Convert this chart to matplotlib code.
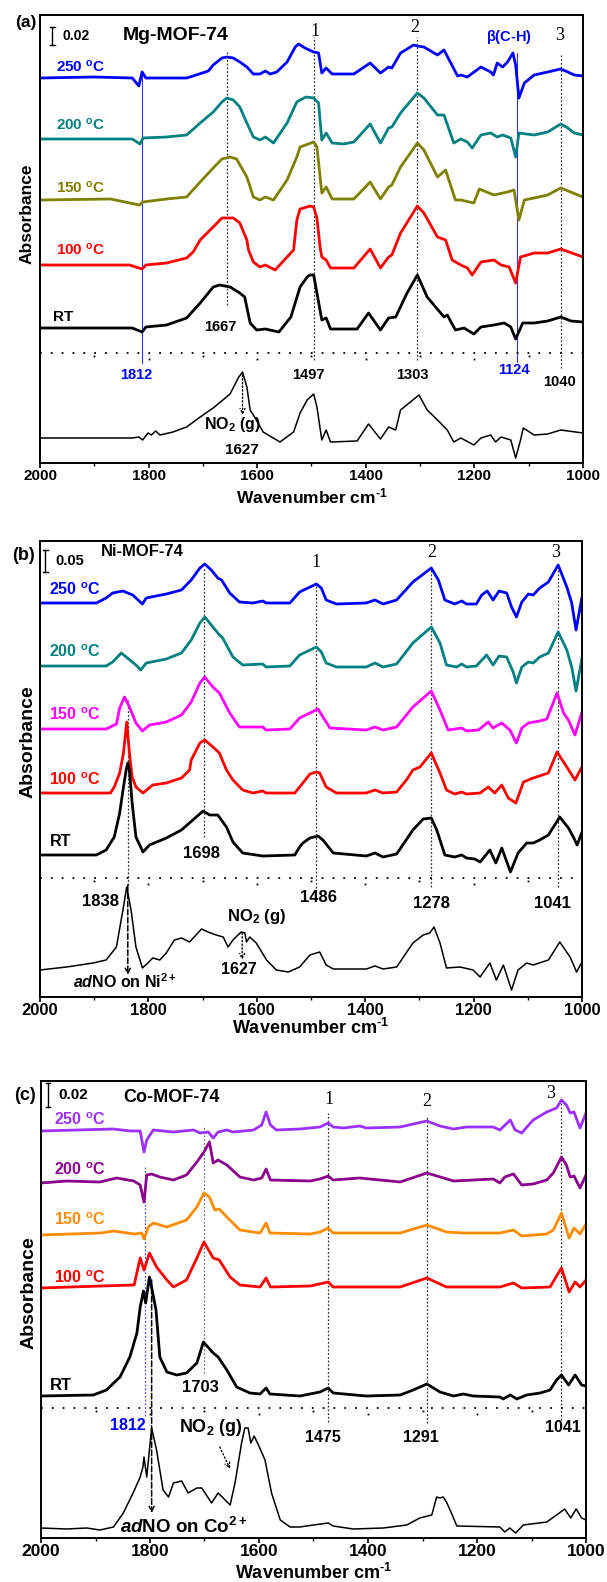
import matplotlib
matplotlib.use("Agg")
import matplotlib.pyplot as plt

plt.rcParams["font.family"] = ["Liberation Sans", "DejaVu Sans"]
plt.rcParams["font.weight"] = "bold"
plt.rcParams["axes.labelweight"] = "bold"
plt.rcParams["mathtext.fontset"] = "custom"
plt.rcParams["mathtext.rm"] = "Liberation Sans:bold"
plt.rcParams["mathtext.bf"] = "Liberation Sans:bold"
plt.rcParams["mathtext.it"] = "Liberation Sans:bold:italic"

# ---- spectra: (wavenumber, height) pairs, stacked heights in arbitrary units ----
# (a) Mg-MOF-74
a_250 = [(2000, 385), (1900, 386), (1830, 385), (1818, 377), (1812, 391), (1805, 385), (1730, 385),
         (1718, 387), (1690, 392), (1681, 398), (1665, 405), (1656, 406), (1644, 405), (1632, 401),
         (1619, 396), (1607, 389), (1595, 389), (1585, 392), (1576, 389), (1564, 391), (1545, 401),
         (1530, 416), (1524, 419), (1512, 415), (1496, 411), (1487, 410), (1481, 390), (1473, 395),
         (1462, 389), (1422, 389), (1392, 400), (1373, 390), (1358, 396), (1352, 395), (1336, 410),
         (1312, 418), (1305, 417), (1293, 416), (1268, 408), (1256, 413), (1231, 387), (1225, 388),
         (1213, 386), (1188, 396), (1170, 391), (1165, 388), (1158, 400), (1148, 396), (1139, 401),
         (1129, 410), (1124, 398), (1118, 365), (1108, 380), (1090, 388), (1065, 391), (1041, 394),
         (1028, 391), (1016, 388), (1000, 387)]
a_200 = [(2000, 324), (1830, 324), (1816, 319), (1810, 325), (1767, 326), (1730, 328), (1705, 340),
         (1681, 351), (1665, 361), (1656, 365), (1644, 363), (1632, 356), (1619, 340), (1607, 326),
         (1595, 323), (1585, 326), (1570, 320), (1545, 340), (1527, 361), (1521, 363), (1510, 366),
         (1496, 365), (1487, 360), (1481, 323), (1473, 330), (1462, 320), (1441, 319), (1422, 321),
         (1392, 339), (1373, 320), (1358, 335), (1352, 336), (1336, 350), (1305, 370), (1293, 365),
         (1268, 348), (1256, 348), (1238, 320), (1225, 324), (1213, 321), (1204, 315), (1188, 328),
         (1170, 330), (1158, 326), (1148, 328), (1133, 325), (1124, 306), (1118, 330), (1090, 328),
         (1065, 331), (1041, 339), (1028, 335), (1016, 330), (1000, 328)]
a_150 = [(2000, 263), (1870, 264), (1817, 258), (1811, 261), (1767, 264), (1730, 266), (1705, 281),
         (1681, 295), (1665, 304), (1650, 306), (1638, 304), (1619, 286), (1607, 266), (1595, 263),
         (1585, 266), (1570, 263), (1545, 283), (1527, 306), (1521, 316), (1496, 321), (1490, 316),
         (1481, 270), (1473, 276), (1462, 264), (1422, 264), (1392, 281), (1373, 264), (1358, 276),
         (1352, 278), (1336, 296), (1305, 320), (1293, 313), (1268, 286), (1253, 293), (1235, 263),
         (1225, 263), (1201, 260), (1191, 274), (1164, 268), (1139, 271), (1127, 273), (1118, 243),
         (1108, 263), (1090, 265), (1065, 268), (1041, 275), (1000, 266)]
a_100 = [(2000, 198), (1835, 198), (1812, 194), (1805, 198), (1767, 200), (1730, 205), (1718, 211),
         (1705, 223), (1681, 236), (1665, 245), (1644, 245), (1632, 240), (1619, 223), (1616, 213),
         (1607, 201), (1595, 196), (1585, 198), (1567, 193), (1545, 206), (1533, 213), (1527, 243),
         (1521, 254), (1502, 257), (1496, 256), (1490, 245), (1484, 215), (1481, 206), (1473, 203),
         (1465, 195), (1422, 195), (1392, 214), (1373, 195), (1358, 206), (1352, 208), (1336, 230),
         (1305, 257), (1293, 250), (1268, 226), (1253, 223), (1241, 203), (1225, 198), (1213, 195),
         (1204, 188), (1188, 201), (1164, 203), (1151, 198), (1136, 196), (1124, 180), (1115, 206),
         (1090, 210), (1065, 210), (1041, 214), (1000, 206)]
a_rt = [(2000, 135), (1830, 135), (1812, 131), (1805, 136), (1767, 138), (1730, 145), (1705, 160),
        (1681, 176), (1669, 178), (1650, 176), (1632, 170), (1623, 166), (1613, 140), (1601, 133),
        (1585, 134), (1560, 131), (1538, 146), (1521, 176), (1508, 186), (1503, 188), (1496, 188),
        (1490, 170), (1481, 143), (1473, 145), (1465, 134), (1416, 134), (1395, 150), (1373, 133),
        (1358, 145), (1345, 146), (1324, 170), (1305, 188), (1287, 166), (1256, 146), (1250, 148),
        (1235, 133), (1219, 135), (1201, 129), (1188, 136), (1164, 138), (1145, 140), (1133, 136),
        (1124, 124), (1111, 140), (1090, 140), (1065, 142), (1041, 146), (1022, 142), (1000, 141)]
a_gas = [(2000, 25), (1830, 25), (1818, 26), (1811, 23), (1801, 30), (1795, 28), (1787, 32), (1779, 28),
         (1755, 31), (1730, 36), (1705, 46), (1681, 55), (1650, 69), (1635, 85), (1627, 91), (1619, 76),
         (1613, 53), (1607, 48), (1589, 31), (1558, 21), (1533, 31), (1521, 50), (1508, 63), (1496, 69),
         (1490, 56), (1481, 23), (1473, 33), (1465, 21), (1416, 22), (1395, 39), (1373, 24), (1358, 36),
         (1345, 33), (1336, 53), (1318, 61), (1302, 68), (1287, 53), (1268, 43), (1250, 33), (1238, 21),
         (1225, 25), (1201, 18), (1188, 25), (1170, 28), (1161, 21), (1151, 26), (1133, 23), (1124, 5),
         (1115, 23), (1110, 35), (1090, 28), (1065, 29), (1041, 33), (1000, 30)]

# (b) Ni-MOF-74
b_250 = [(2000, 394), (1896, 394), (1878, 399), (1866, 404), (1847, 406), (1829, 402), (1811, 393),
         (1804, 399), (1767, 403), (1739, 407), (1721, 417), (1705, 429), (1696, 433), (1684, 427),
         (1672, 419), (1665, 417), (1650, 404), (1632, 395), (1607, 394), (1589, 396), (1583, 394),
         (1539, 394), (1521, 405), (1502, 410), (1490, 413), (1481, 409), (1472, 397), (1453, 393),
         (1398, 394), (1382, 397), (1367, 393), (1342, 397), (1312, 415), (1278, 429), (1265, 417),
         (1253, 397), (1235, 393), (1222, 396), (1213, 393), (1195, 393), (1185, 402), (1175, 406),
         (1164, 397), (1153, 406), (1139, 404), (1130, 390), (1121, 380), (1111, 395), (1099, 403),
         (1090, 402), (1078, 409), (1062, 415), (1044, 432), (1028, 410), (1019, 394), (1011, 367),
         (1000, 400)]
b_200 = [(2000, 331), (1878, 331), (1866, 335), (1850, 344), (1841, 340), (1823, 332), (1814, 327),
         (1804, 334), (1767, 338), (1739, 344), (1721, 357), (1705, 374), (1696, 380), (1684, 372),
         (1672, 364), (1663, 359), (1644, 340), (1626, 332), (1589, 333), (1583, 330), (1539, 331),
         (1521, 342), (1490, 350), (1481, 345), (1472, 334), (1453, 330), (1398, 330), (1382, 334),
         (1367, 330), (1342, 333), (1312, 354), (1278, 370), (1262, 354), (1250, 332), (1231, 330),
         (1222, 333), (1213, 330), (1195, 331), (1176, 342), (1164, 332), (1153, 341), (1139, 340),
         (1127, 325), (1121, 314), (1111, 330), (1099, 335), (1090, 334), (1078, 340), (1062, 344),
         (1044, 365), (1028, 347), (1019, 330), (1011, 306), (1000, 339)]
b_150 = [(2000, 268), (1878, 268), (1859, 273), (1853, 289), (1844, 300), (1835, 290), (1823, 274),
         (1811, 266), (1798, 272), (1767, 275), (1739, 282), (1721, 295), (1705, 314), (1696, 320),
         (1681, 310), (1669, 304), (1650, 284), (1632, 270), (1589, 270), (1583, 267), (1539, 268),
         (1521, 279), (1502, 284), (1487, 288), (1478, 280), (1465, 269), (1398, 267), (1382, 270),
         (1367, 267), (1342, 270), (1312, 290), (1278, 306), (1262, 287), (1247, 267), (1222, 269),
         (1213, 266), (1191, 267), (1173, 275), (1164, 269), (1148, 274), (1133, 267), (1121, 254),
         (1111, 269), (1099, 274), (1078, 276), (1065, 278), (1046, 304), (1034, 284), (1025, 277),
         (1013, 262), (1000, 285)]
b_100 = [(2000, 204), (1870, 204), (1863, 210), (1853, 224), (1846, 244), (1840, 275), (1835, 244),
         (1830, 220), (1823, 210), (1810, 204), (1792, 212), (1767, 214), (1739, 219), (1724, 227),
         (1721, 237), (1705, 254), (1696, 257), (1681, 250), (1669, 244), (1656, 227), (1644, 217),
         (1626, 207), (1607, 204), (1589, 206), (1583, 204), (1530, 204), (1515, 214), (1502, 223),
         (1490, 225), (1484, 224), (1472, 210), (1453, 204), (1398, 204), (1382, 207), (1367, 204),
         (1342, 205), (1324, 217), (1312, 227), (1299, 230), (1278, 244), (1262, 224), (1250, 207),
         (1235, 203), (1222, 205), (1213, 203), (1188, 204), (1173, 210), (1161, 204), (1148, 212),
         (1136, 199), (1122, 194), (1108, 215), (1090, 219), (1062, 224), (1046, 245), (1028, 230),
         (1013, 217), (1000, 230)]
b_rt = [(2000, 142), (1896, 142), (1878, 147), (1863, 160), (1853, 184), (1846, 210), (1841, 227),
        (1838, 234), (1835, 227), (1830, 194), (1823, 160), (1810, 145), (1798, 152), (1767, 159),
        (1739, 167), (1718, 177), (1699, 186), (1687, 182), (1672, 182), (1656, 170), (1644, 155),
        (1626, 144), (1589, 141), (1530, 142), (1521, 150), (1515, 154), (1502, 159), (1487, 161),
        (1478, 157), (1459, 144), (1398, 141), (1382, 144), (1367, 140), (1342, 143), (1312, 167),
        (1293, 178), (1278, 179), (1268, 167), (1253, 142), (1235, 140), (1222, 142), (1213, 139),
        (1198, 138), (1188, 135), (1170, 147), (1159, 134), (1148, 149), (1132, 125), (1118, 144),
        (1102, 154), (1090, 154), (1078, 157), (1062, 162), (1041, 180), (1025, 169), (1016, 160),
        (1009, 152), (1000, 165)]
b_gas = [(2000, 27), (1951, 30), (1902, 34), (1878, 37), (1859, 50), (1847, 87), (1840, 110), (1832, 87),
         (1823, 50), (1811, 29), (1801, 34), (1792, 39), (1779, 37), (1767, 44), (1752, 57), (1739, 59),
         (1724, 55), (1702, 68), (1690, 65), (1675, 62), (1662, 60), (1653, 50), (1644, 57), (1629, 65),
         (1622, 64), (1619, 55), (1613, 60), (1601, 54), (1582, 37), (1564, 27), (1542, 25), (1521, 30),
         (1502, 42), (1484, 45), (1472, 32), (1459, 28), (1398, 28), (1382, 31), (1367, 28), (1342, 30),
         (1312, 54), (1293, 62), (1281, 64), (1273, 70), (1262, 54), (1250, 29), (1225, 30), (1201, 27),
         (1188, 20), (1170, 34), (1158, 17), (1145, 32), (1130, 7), (1118, 27), (1102, 34), (1090, 32),
         (1062, 37), (1041, 55), (1022, 40), (1010, 25), (1000, 35)]

# (c) Co-MOF-74
c_250 = [(2000, 407), (1867, 409), (1836, 407), (1818, 407), (1815, 398), (1811, 386), (1806, 398),
         (1794, 408), (1757, 406), (1720, 408), (1708, 405), (1693, 406), (1684, 400), (1675, 406),
         (1659, 408), (1647, 406), (1610, 408), (1595, 413), (1587, 426), (1579, 413), (1568, 408),
         (1525, 409), (1488, 411), (1473, 415), (1464, 411), (1445, 410), (1415, 412), (1403, 410),
         (1341, 411), (1317, 414), (1292, 417), (1268, 412), (1243, 409), (1219, 411), (1170, 411),
         (1158, 408), (1139, 418), (1130, 408), (1118, 405), (1097, 418), (1072, 426), (1054, 430),
         (1045, 438), (1036, 433), (1029, 425), (1022, 426), (1011, 410), (1000, 425)]
c_200 = [(2000, 355), (1953, 357), (1892, 356), (1861, 360), (1830, 357), (1818, 353), (1811, 336),
         (1806, 363), (1797, 364), (1782, 361), (1757, 358), (1733, 363), (1714, 376), (1701, 386),
         (1691, 396), (1684, 375), (1675, 378), (1659, 373), (1635, 361), (1610, 358), (1595, 360),
         (1587, 369), (1579, 358), (1506, 357), (1488, 359), (1473, 362), (1464, 358), (1415, 360),
         (1341, 356), (1292, 365), (1243, 357), (1170, 359), (1158, 355), (1149, 361), (1133, 364),
         (1118, 353), (1097, 354), (1072, 358), (1060, 365), (1045, 381), (1036, 373), (1029, 361),
         (1022, 362), (1011, 350), (1000, 363)]
c_150 = [(2000, 303), (1890, 305), (1867, 307), (1829, 304), (1815, 305), (1811, 299), (1803, 311),
         (1794, 315), (1769, 311), (1733, 318), (1714, 331), (1701, 345), (1691, 341), (1681, 328),
         (1673, 329), (1659, 321), (1635, 308), (1598, 305), (1587, 315), (1580, 305), (1506, 304),
         (1488, 306), (1473, 310), (1464, 305), (1415, 305), (1341, 305), (1292, 313), (1256, 306),
         (1225, 305), (1158, 305), (1133, 308), (1118, 302), (1072, 304), (1060, 308), (1045, 325),
         (1031, 300), (1022, 310), (1011, 304), (1000, 314)]
c_100 = [(2000, 250), (1890, 252), (1829, 253), (1818, 280), (1811, 268), (1801, 285), (1788, 271),
         (1769, 258), (1757, 251), (1733, 258), (1714, 280), (1701, 296), (1684, 280), (1673, 278),
         (1653, 261), (1635, 253), (1598, 251), (1587, 260), (1579, 251), (1506, 252), (1473, 256),
         (1464, 251), (1415, 251), (1341, 251), (1292, 260), (1256, 251), (1158, 251), (1133, 255),
         (1118, 250), (1066, 251), (1045, 270), (1031, 246), (1020, 256), (1011, 251), (1000, 258)]
c_rt = [(2000, 142), (1904, 143), (1880, 148), (1855, 161), (1837, 181), (1824, 205), (1818, 231),
        (1812, 247), (1808, 235), (1801, 261), (1795, 245), (1789, 228), (1782, 181), (1769, 166),
        (1751, 163), (1733, 165), (1714, 175), (1702, 196), (1684, 185), (1675, 181), (1659, 168),
        (1641, 151), (1617, 145), (1598, 144), (1587, 150), (1580, 144), (1525, 142), (1488, 146),
        (1473, 150), (1464, 145), (1403, 142), (1341, 143), (1317, 148), (1292, 154), (1268, 146),
        (1243, 142), (1225, 144), (1207, 142), (1158, 141), (1152, 139), (1139, 143), (1127, 139),
        (1109, 143), (1084, 145), (1066, 148), (1054, 158), (1045, 163), (1032, 153), (1020, 163),
        (1008, 153), (1000, 152)]
c_gas = [(2000, 10), (1953, 9), (1916, 10), (1892, 8), (1867, 11), (1849, 25), (1831, 45), (1818, 61),
         (1813, 71), (1811, 81), (1806, 61), (1797, 110), (1788, 88), (1776, 48), (1766, 41), (1757, 55),
         (1742, 57), (1730, 45), (1714, 50), (1705, 50), (1687, 35), (1675, 45), (1653, 33), (1644, 55),
         (1632, 95), (1626, 110), (1620, 110), (1615, 95), (1609, 102), (1601, 93), (1589, 78), (1577, 45),
         (1561, 18), (1543, 11), (1525, 11), (1500, 13), (1473, 15), (1464, 12), (1427, 9), (1372, 10),
         (1329, 13), (1305, 20), (1283, 23), (1274, 41), (1268, 40), (1262, 41), (1256, 36), (1247, 25),
         (1237, 12), (1158, 11), (1149, 6), (1140, 10), (1129, 5), (1115, 13), (1072, 16), (1054, 23),
         (1039, 29), (1028, 20), (1018, 29), (1008, 20), (1000, 18)]

TEMPS = ["250", "200", "150", "100"]
XTICKS = [2000, 1800, 1600, 1400, 1200, 1000]

W, H = 607, 1582
fig = plt.figure(figsize=(W / 100, H / 100), dpi=100)


def make_panel(box, fs):
    l, t, r, b = box
    ax = fig.add_axes([l / W, 1 - b / H, (r - l) / W, (b - t) / H])
    ax.set_xlim(2000, 1000)
    ax.set_ylim(0, b - t)
    ax.set_yticks([])
    ax.set_xticks(XTICKS)
    ax.set_xticks(range(1100, 2000, 200), minor=True)
    ax.tick_params(axis="x", which="major", direction="out", length=3.5, width=1.2,
                   labelsize=fs["tick"], pad=1.0)
    ax.tick_params(axis="x", which="minor", direction="out", length=2, width=1.0)
    for lbl in ax.get_xticklabels():
        lbl.set_fontweight("bold")
    for sp in ax.spines.values():
        sp.set_linewidth(1.4)
    ax.set_xlabel(r"Wavenumber cm$^{\text{-1}}$", fontsize=fs["xlabel"], fontweight="bold")
    # label top placed just under the tick labels
    ax.xaxis.set_label_coords(0.5, -fs["label_gap"] / (b - t))
    return ax


def curve(ax, pts, color, lw=2.0):
    x, y = zip(*pts)
    ax.plot(x, y, color=color, lw=lw, solid_joinstyle="round", solid_capstyle="round")


def separator(ax, h):
    ax.axhline(h, color="black", lw=1.3, ls=(0, (1, 5)))
    for wn in range(1900, 1000, -100):
        d = 6 if wn % 200 == 0 else 3
        ax.plot(wn, h - d, marker="s", ms=1.3, color="black", mew=0)


def vline(ax, wn, top, bot, color="#333333", ls=(0, (1.5, 1.5)), lw=0.9):
    ax.plot([wn, wn], [bot, top], color=color, ls=ls, lw=lw)


def arrow(ax, start, end, ls=":", lw=1.0):
    ax.annotate("", xy=end, xytext=start,
                arrowprops=dict(arrowstyle="->", color="black", lw=lw, ls=ls,
                                shrinkA=0, shrinkB=0, mutation_scale=9))


def scale_bar(ax, wn, lo, hi, label, fs):
    ax.plot([wn, wn], [lo, hi], color="black", lw=1.0)
    for y in (lo, hi):
        ax.plot([wn - 4, wn + 4], [y, y], color="black", lw=1.0)
    ax.text(wn - 18, (lo + hi) / 2, label, fontsize=fs, ha="left", va="center")


def temp_labels(ax, wn, hs, colors, fs):
    for t, h, c in zip(TEMPS, hs, colors):
        ax.text(wn, h, t + r" $^{\mathbf{o}}$C", color=c, fontsize=fs, ha="center", va="center")


serif = dict(family="Liberation Serif", fontweight="normal")

# ---------------- panel (a) ----------------
fsa = dict(tick=11, xlabel=12.5, label_gap=23)
ax = make_panel((40, 15, 583, 463), fsa)
cols_a = ["#0000ff", "#008080", "#808000", "#ff0000"]
vline(ax, 1813, 391, 100, color="#3333ff", ls="-", lw=0.8)
vline(ax, 1121, 410, 101, color="#3333ff", ls="-", lw=0.8)
vline(ax, 1656, 411, 158)
vline(ax, 1495, 426, 103)
vline(ax, 1305, 426, 103)
vline(ax, 1041, 408, 95)
for pts, c in zip([a_250, a_200, a_150, a_100], cols_a):
    curve(ax, pts, c)
curve(ax, a_rt, "black")
curve(ax, a_gas, "black", lw=1.1)
separator(ax, 110)
arrow(ax, (1627, 88), (1627, 48))
scale_bar(ax, 1977, 418, 436, "0.02", 10)
ax.text(1750, 428, "Mg-MOF-74", fontsize=14, ha="center", va="center")
temp_labels(ax, 1925, [396, 338, 275, 213], cols_a, 11)
ax.text(1958, 146, "RT", fontsize=11, ha="center", va="center")
ax.text(1668, 136, "1667", fontsize=10.5, ha="center", va="center")
ax.text(1822, 88, "1812", fontsize=10.5, ha="center", va="center", color="#0000ff")
ax.text(1505, 88, "1497", fontsize=10.5, ha="center", va="center")
ax.text(1314, 88, "1303", fontsize=10.5, ha="center", va="center")
ax.text(1127, 93, "1124", fontsize=10.5, ha="center", va="center", color="#0000ff")
ax.text(1044, 81, "1040", fontsize=10.5, ha="center", va="center")
ax.text(1646, 38, r"NO$_{\mathbf{2}}$ (g)", fontsize=11.5, ha="center", va="center")
ax.text(1628, 13, "1627", fontsize=11, ha="center", va="center")
ax.text(1493, 431, "1", fontsize=13, ha="center", va="center", **serif)
ax.text(1309, 435, "2", fontsize=13, ha="center", va="center", **serif)
ax.text(1043, 428, "3", fontsize=13, ha="center", va="center", **serif)
ax.text(1137, 426, r"$\mathbf{\beta}$(C-H)", fontsize=10.5, ha="center", va="center", color="#0000ff")
fig.text(26 / W, 1 - 22 / H, "(a)", fontsize=12.5, ha="center", va="center")
fig.text(27 / W, 1 - 214 / H, "Absorbance", fontsize=12.5, rotation=90, ha="center", va="center")

# ---------------- panel (b) ----------------
fsb = dict(tick=12, xlabel=13, label_gap=21)
ax = make_panel((40, 541, 582, 997), fsb)
cols_b = ["#0000ff", "#008080", "#ff00ff", "#ff0000"]
vline(ax, 1838, 297, 112)
vline(ax, 1697, 430, 160)
vline(ax, 1490, 414, 109)
vline(ax, 1278, 430, 110)
vline(ax, 1045, 430, 110)
for pts, c in zip([b_250, b_200, b_150, b_100], cols_b):
    curve(ax, pts, c)
curve(ax, b_rt, "black")
curve(ax, b_gas, "black", lw=1.1)
separator(ax, 119)
arrow(ax, (1838, 112), (1838, 22), ls="--", lw=1.1)
arrow(ax, (1627, 64), (1627, 37))
scale_bar(ax, 1990, 425, 447, "0.05", 10.5)
ax.text(1811, 445, "Ni-MOF-74", fontsize=12, ha="center", va="center")
temp_labels(ax, 1936, [407, 345, 282, 217], cols_b, 11.5)
ax.text(1962, 155, "RT", fontsize=11.5, ha="center", va="center")
ax.text(1702, 144, "1698", fontsize=12, ha="center", va="center")
ax.text(1888, 95, "1838", fontsize=12, ha="center", va="center")
ax.text(1487, 99, "1486", fontsize=12, ha="center", va="center")
ax.text(1277, 94, "1278", fontsize=12, ha="center", va="center")
ax.text(1054, 94, "1041", fontsize=12, ha="center", va="center")
ax.text(1600, 80, r"NO$_{\mathbf{2}}$ (g)", fontsize=12, ha="center", va="center")
ax.text(1633, 27, "1627", fontsize=11.5, ha="center", va="center")
ax.text(1844, 15, r"$\mathit{ad}$NO on Ni$^{\mathbf{2+}}$", fontsize=11.5, ha="center", va="center")
ax.text(1491, 434, "1", fontsize=13, ha="center", va="center", **serif)
ax.text(1277, 444, "2", fontsize=13, ha="center", va="center", **serif)
ax.text(1048, 444, "3", fontsize=13, ha="center", va="center", **serif)
fig.text(24 / W, 1 - 556 / H, "(b)", fontsize=13, ha="center", va="center")
fig.text(28 / W, 1 - 742 / H, "Absorbance", fontsize=14, rotation=90, ha="center", va="center")

# ---------------- panel (c) ----------------
fsc = dict(tick=12.5, xlabel=13, label_gap=25)
ax = make_panel((41, 1081, 586, 1538), fsc)
cols_c = ["#9b30ff", "#8b008b", "#ff8c00", "#ff0000"]
vline(ax, 1810, 371, 122, color="#5050ff")
vline(ax, 1701, 412, 165, color="#777777")
vline(ax, 1473, 425, 116)
vline(ax, 1292, 422, 115)
vline(ax, 1045, 441, 118)
for pts, c in zip([c_250, c_200, c_150, c_100], cols_c):
    curve(ax, pts, c)
curve(ax, c_rt, "black")
curve(ax, c_gas, "black", lw=1.1)
separator(ax, 130)
arrow(ax, (1797, 258), (1797, 25), ls="--", lw=1.1)
arrow(ax, (1672, 91), (1653, 69))
scale_bar(ax, 1987, 431, 455, "0.02", 11)
ax.text(1760, 441, "Co-MOF-74", fontsize=13, ha="center", va="center")
temp_labels(ax, 1928, [418, 368, 318, 260], cols_c, 11.5)
ax.text(1963, 153, "RT", fontsize=12, ha="center", va="center")
ax.text(1708, 150, "1703", fontsize=12, ha="center", va="center")
ax.text(1840, 113, "1812", fontsize=11.5, ha="center", va="center", color="#0000ff")
ax.text(1688, 110, r"NO$_{\mathbf{2}}$ (g)", fontsize=13, ha="center", va="center")
ax.text(1739, 11, r"$\mathit{ad}$NO on Co$^{\mathbf{2+}}$", fontsize=13.5, ha="center", va="center")
ax.text(1483, 101, "1475", fontsize=11.5, ha="center", va="center")
ax.text(1303, 100, "1291", fontsize=11.5, ha="center", va="center")
ax.text(1042, 110, "1041", fontsize=11.5, ha="center", va="center")
ax.text(1472, 438, "1", fontsize=13, ha="center", va="center", **serif)
ax.text(1292, 436, "2", fontsize=13, ha="center", va="center", **serif)
ax.text(1064, 445, "3", fontsize=13, ha="center", va="center", **serif)
fig.text(25 / W, 1 - 1095 / H, "(c)", fontsize=13, ha="center", va="center")
fig.text(29 / W, 1 - 1293 / H, "Absorbance", fontsize=14, rotation=90, ha="center", va="center")

fig.savefig("out.png", dpi=100)
